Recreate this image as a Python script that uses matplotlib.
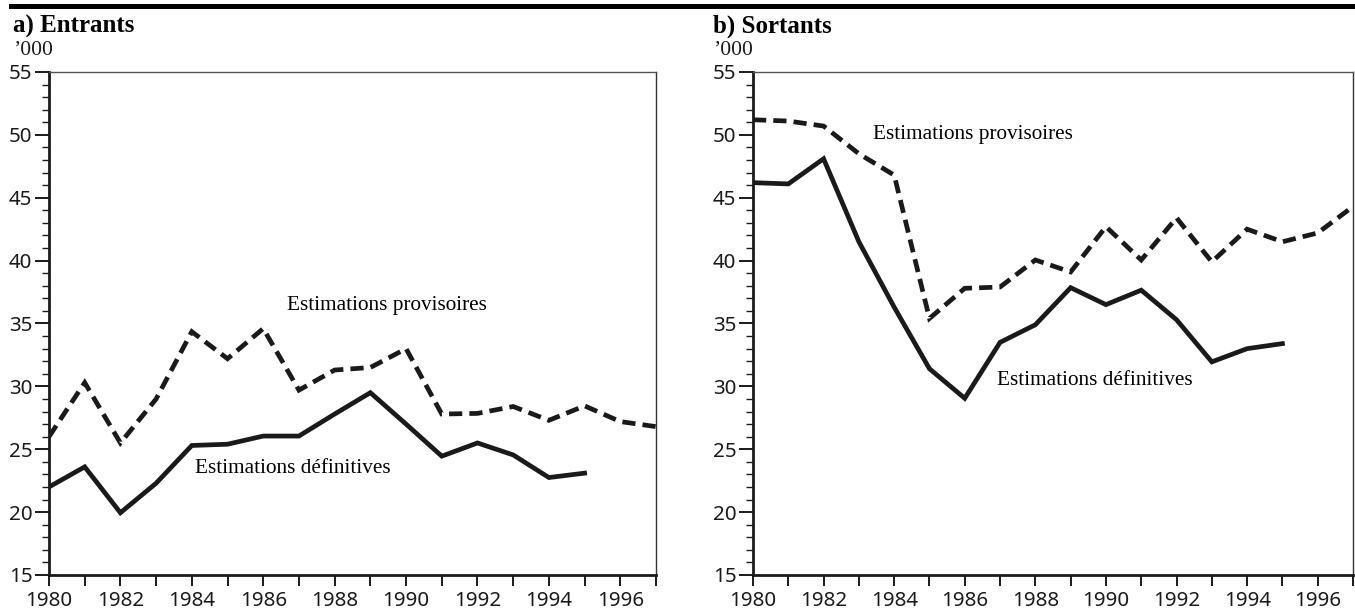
import matplotlib
matplotlib.use("Agg")
import matplotlib.pyplot as plt
from matplotlib.patches import Rectangle
from matplotlib.ticker import MultipleLocator, FuncFormatter

plt.rcParams['font.family'] = ['Liberation Serif', 'DejaVu Serif']

years = list(range(1980, 1998))
years_def = list(range(1980, 1996))

# a) Entrants ('000)
entr_prov = [26.0, 30.3, 25.5, 29.0, 34.35, 32.2, 34.6, 29.7, 31.3, 31.5,
             33.0, 27.8, 27.85, 28.4, 27.3, 28.45, 27.2, 26.8]
entr_def = [22.0, 23.6, 19.95, 22.3, 25.3, 25.4, 26.05, 26.05, 27.8, 29.5,
            27.0, 24.45, 25.5, 24.55, 22.75, 23.1]

# b) Sortants ('000)
sort_prov = [51.2, 51.1, 50.7, 48.5, 46.8, 35.4, 37.8, 37.9, 40.05, 39.1,
             42.7, 40.05, 43.4, 39.9, 42.5, 41.5, 42.2, 44.3]
sort_def = [46.2, 46.1, 48.1, 41.5, 36.3, 31.4, 29.05, 33.5, 34.9, 37.85,
            36.5, 37.65, 35.3, 31.95, 33.0, 33.4]

panel_titles = ["a) Entrants", "b) Sortants"]
unit_label = "\u2019000"
lbl_prov = "Estimations provisoires"
lbl_def = "Estimations d\u00e9finitives"

W, H = 1355, 611
fig = plt.figure(figsize=(W / 100, H / 100), dpi=100)

# heavy rule across the top
fig.add_artist(Rectangle((9 / W, 1 - 9 / H), (W - 9) / W, 5 / H,
                         transform=fig.transFigure, color='black', lw=0))

ink = '#1a1a1a'
tick_font = ['Noto Sans', 'DejaVu Sans']
panels = [
    dict(x0=49, x1=656, prov=entr_prov, dfn=entr_def,
         prov_xy=(1986.67, 36.45), def_xy=(1984.1, 23.5), tx=13),
    dict(x0=753, x1=1353, prov=sort_prov, dfn=sort_def,
         prov_xy=(1983.39, 50.0), def_xy=(1986.9, 30.5), tx=713),
]

top_px, bot_px = 72, 575
for p, title in zip(panels, panel_titles):
    ax = fig.add_axes([p['x0'] / W, 1 - bot_px / H,
                       (p['x1'] - p['x0']) / W, (bot_px - top_px) / H])
    ax.plot(years, p['prov'], color=ink, lw=3.4, linestyle=(0, (2.8, 1.5)),
            solid_joinstyle='miter', dash_joinstyle='miter')
    ax.plot(years_def, p['dfn'], color=ink, lw=3.4, solid_joinstyle='miter')

    ax.set_xlim(1980, 1997)
    ax.set_ylim(15, 55)
    ax.xaxis.set_major_locator(MultipleLocator(1))
    ax.xaxis.set_major_formatter(
        FuncFormatter(lambda v, pos: f"{int(round(v))}"
                      if int(round(v)) % 2 == 0 and v < 1997 else ""))
    ax.yaxis.set_major_locator(MultipleLocator(5))
    ax.yaxis.set_minor_locator(MultipleLocator(1))

    ax.tick_params(axis='x', which='major', direction='out', length=8, width=1.4,
                   color=ink, labelsize=14.8, pad=3.5)
    ax.tick_params(axis='y', which='major', direction='out', length=10, width=1.4,
                   color=ink, labelsize=14.8, pad=2)
    ax.tick_params(axis='y', which='minor', direction='out', length=5, width=1.0,
                   color=ink)
    for lab in ax.get_xticklabels() + ax.get_yticklabels():
        lab.set_color(ink)
        lab.set_family(tick_font)

    ax.spines['left'].set_linewidth(2.0)
    ax.spines['bottom'].set_linewidth(2.0)
    ax.spines['left'].set_color(ink)
    ax.spines['bottom'].set_color(ink)
    ax.spines['top'].set_linewidth(1.0)
    ax.spines['right'].set_linewidth(1.0)
    ax.spines['top'].set_color('#555555')
    ax.spines['right'].set_color('#333333')

    ax.text(*p['prov_xy'], lbl_prov, fontsize=15.3, color='black',
            ha='left', va='center')
    ax.text(*p['def_xy'], lbl_def, fontsize=15.3, color='black',
            ha='left', va='center')

    fig.text(p['tx'] / W, 1 - 33 / H, title, fontsize=18, fontweight='bold',
             ha='left', va='baseline', color='black')
    fig.text(p['tx'] / W, 1 - 55 / H, unit_label, fontsize=15.5,
             ha='left', va='baseline', color=ink)

fig.savefig("out.png", dpi=100)
